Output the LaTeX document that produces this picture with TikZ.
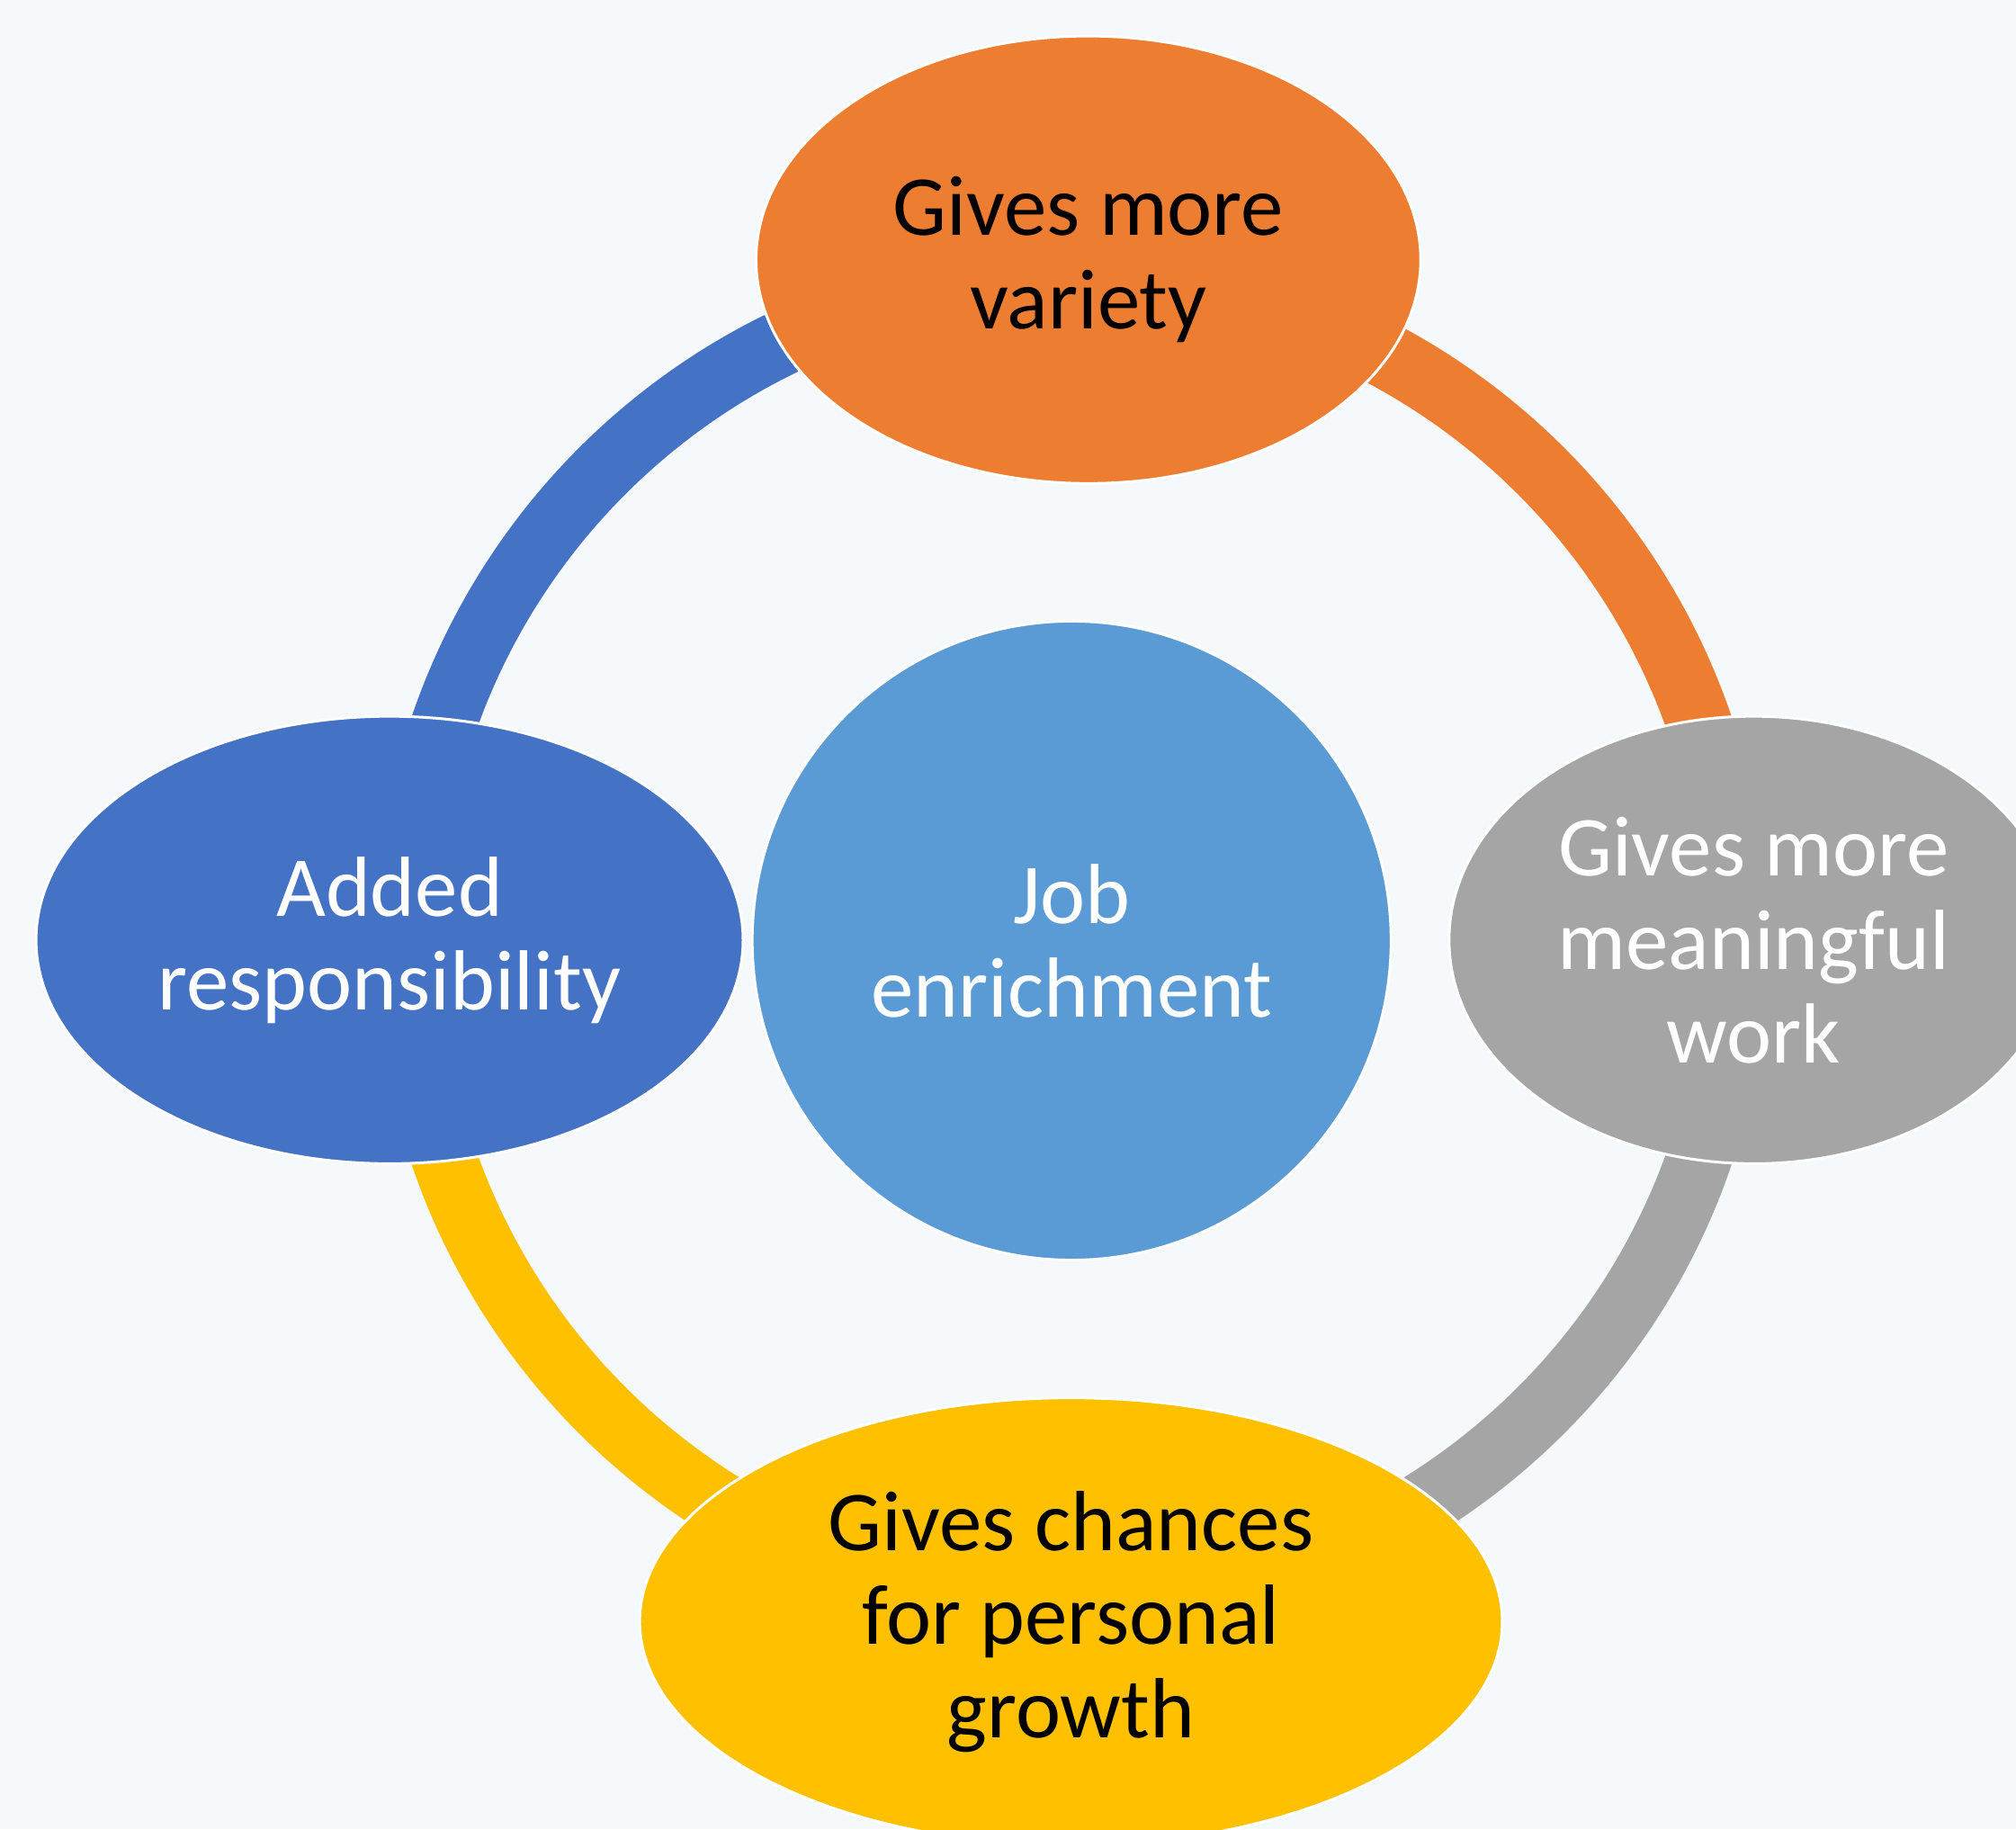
\documentclass[tikz,border=0pt]{standalone}
\usepackage{fontspec}
\setmainfont{Carlito}
\usetikzlibrary{shapes.geometric}
\definecolor{bgpaper}{HTML}{F5F9FC}
\definecolor{varietyorange}{HTML}{ED7D31}
\definecolor{dutyblue}{HTML}{4472C4}
\definecolor{workgray}{HTML}{A5A5A5}
\definecolor{growthyellow}{HTML}{FFC000}
\definecolor{hubblue}{HTML}{5B9BD5}
\tikzset{
  bigtext/.style={font=\fontsize{37.8}{41.4}\selectfont, align=center},
  petal/.style={ellipse, draw=white, line width=1.2pt, inner sep=0pt,
    minimum height=6.96cm, bigtext},
  ringarc/.style={line width=1.02cm},
}
\begin{document}
\begin{tikzpicture}[x=0.02cm,y=0.02cm]
      \clip (0,0) rectangle (1568,-1422.5);
      \fill[bgpaper] (0,0) rectangle (1568,-1422.5);
      % hub in the middle
      \node[circle, fill=hubblue, draw=white, line width=1.2pt, inner sep=0pt,
        minimum size=9.94cm, text=white, bigtext] (job) at (833.5,-731.5) {Job\\enrichment};
      % ring pieces, under the ellipses
      \begin{scope}[ringarc]
        \draw[dutyblue] (job.center) ++(90:10.33cm) arc[start angle=90, end angle=180, radius=10.33cm];
        \draw[varietyorange] (job.center) ++(0:10.33cm) arc[start angle=0, end angle=90, radius=10.33cm];
        \draw[workgray] (job.center) ++(270:10.33cm) arc[start angle=270, end angle=360, radius=10.33cm];
        \draw[growthyellow] (job.center) ++(180:10.33cm) arc[start angle=180, end angle=270, radius=10.33cm];
      \end{scope}
      \draw
        (846.5,-202) node[petal, fill=varietyorange, minimum width=10.34cm] (variety) {Gives more\\variety}
        (303,-731) node[petal, fill=dutyblue, text=white, minimum width=11cm] (duty) {Added\\responsibility}
        (1364,-731) node[petal, fill=workgray, text=white, minimum width=9.48cm] (work) {Gives more\\meaningful\\work}
        (833,-1261) node[petal, fill=growthyellow, minimum width=13.42cm] (growth) {Gives chances\\for personal\\growth};
\end{tikzpicture}
\end{document}
